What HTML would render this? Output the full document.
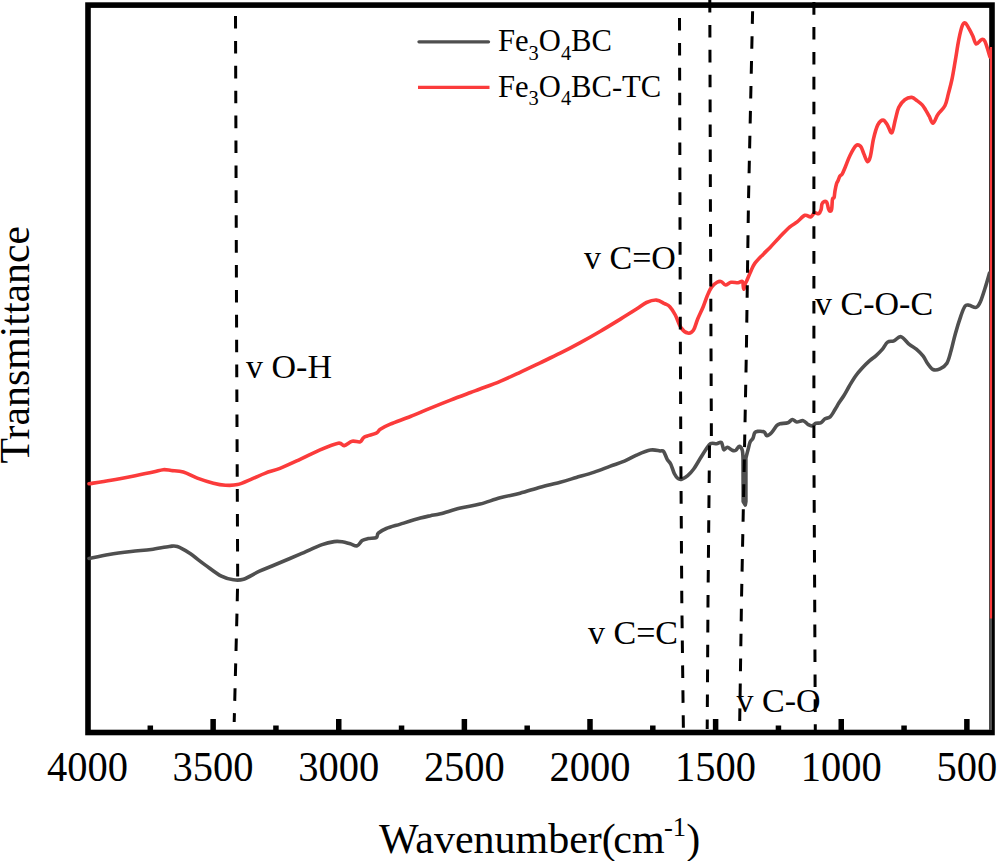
<!DOCTYPE html>
<html><head><meta charset="utf-8"><style>
html,body{margin:0;padding:0;background:#fff;}
body{width:997px;height:861px;overflow:hidden;}
svg{display:block;}
text{font-family:"Liberation Serif",serif;fill:#000;}
</style></head><body>
<svg width="997" height="861" viewBox="0 0 997 861">
<rect x="0" y="0" width="997" height="861" fill="#fff"/>
<rect x="88" y="5.1" width="904" height="727.4" fill="none" stroke="#000" stroke-width="5.6"/>
<rect x="147.56" y="725.50" width="5.5" height="5.50" fill="#000"/><rect x="210.38" y="719.00" width="5.5" height="12.00" fill="#000"/><rect x="273.19" y="725.50" width="5.5" height="5.50" fill="#000"/><rect x="336.00" y="719.00" width="5.5" height="12.00" fill="#000"/><rect x="398.81" y="725.50" width="5.5" height="5.50" fill="#000"/><rect x="461.62" y="719.00" width="5.5" height="12.00" fill="#000"/><rect x="524.44" y="725.50" width="5.5" height="5.50" fill="#000"/><rect x="587.25" y="719.00" width="5.5" height="12.00" fill="#000"/><rect x="650.06" y="725.50" width="5.5" height="5.50" fill="#000"/><rect x="712.87" y="719.00" width="5.5" height="12.00" fill="#000"/><rect x="775.69" y="725.50" width="5.5" height="5.50" fill="#000"/><rect x="838.50" y="719.00" width="5.5" height="12.00" fill="#000"/><rect x="901.31" y="725.50" width="5.5" height="5.50" fill="#000"/><rect x="964.12" y="719.00" width="5.5" height="12.00" fill="#000"/>
<g font-size="40.5" transform="translate(0,780.6) scale(1,1.06) translate(0,-780)"><text x="87.50" y="780" text-anchor="middle">4000</text><text x="213.12" y="780" text-anchor="middle">3500</text><text x="338.75" y="780" text-anchor="middle">3000</text><text x="464.37" y="780" text-anchor="middle">2500</text><text x="590.00" y="780" text-anchor="middle">2000</text><text x="715.62" y="780" text-anchor="middle">1500</text><text x="841.25" y="780" text-anchor="middle">1000</text><text x="966.87" y="780" text-anchor="middle">500</text></g>
<path d="M89.00,558.50 C92.33,557.83 101.98,555.67 109.00,554.50 C116.02,553.33 124.07,552.33 131.10,551.50 C138.13,550.67 144.83,550.33 151.20,549.50 C157.57,548.67 164.95,547.00 169.30,546.50 C173.65,546.00 173.97,545.40 177.30,546.50 C180.63,547.60 184.62,550.00 189.30,553.10 C193.98,556.20 200.05,561.25 205.40,565.10 C210.75,568.95 216.73,573.75 221.40,576.20 C226.07,578.65 229.72,579.30 233.40,579.80 C237.08,580.30 239.15,580.63 243.50,579.20 C247.85,577.77 254.15,573.65 259.50,571.20 C264.85,568.75 268.83,567.33 275.60,564.50 C282.37,561.67 292.35,557.52 300.10,554.20 C307.85,550.88 316.42,546.70 322.10,544.60 C327.78,542.50 330.85,542.07 334.20,541.60 C337.55,541.13 339.53,541.43 342.20,541.80 C344.87,542.17 347.70,543.13 350.20,543.80 C352.70,544.47 355.20,546.33 357.20,545.80 C359.20,545.27 360.35,541.80 362.20,540.60 C364.05,539.40 365.95,539.10 368.30,538.60 C370.65,538.10 374.63,538.50 376.30,537.60 C377.97,536.70 376.63,534.72 378.30,533.20 C379.97,531.68 382.62,530.02 386.30,528.50 C389.98,526.98 394.72,525.83 400.40,524.10 C406.08,522.37 415.38,519.50 420.40,518.10 C425.42,516.70 427.15,516.43 430.50,515.70 C433.85,514.97 435.50,514.97 440.50,513.70 C445.50,512.43 453.92,509.70 460.50,508.10 C467.08,506.50 473.40,505.82 480.00,504.10 C486.60,502.38 493.42,499.62 500.10,497.80 C506.78,495.98 513.42,494.97 520.10,493.20 C526.78,491.43 533.52,489.03 540.20,487.20 C546.88,485.37 554.18,483.82 560.20,482.20 C566.22,480.58 570.62,479.18 576.30,477.50 C581.98,475.82 588.62,474.00 594.30,472.10 C599.98,470.20 605.38,467.93 610.40,466.10 C615.42,464.27 620.05,462.93 624.40,461.10 C628.75,459.27 632.15,456.93 636.50,455.10 C640.85,453.27 646.58,450.80 650.50,450.10 C654.42,449.40 657.82,450.67 660.00,450.90 C662.18,451.13 662.40,450.10 663.60,451.50 C664.80,452.90 666.00,457.18 667.20,459.30 C668.40,461.42 669.60,461.78 670.80,464.20 C672.00,466.62 673.18,471.40 674.40,473.80 C675.62,476.20 676.88,477.70 678.10,478.60 C679.32,479.50 680.10,479.70 681.70,479.20 C683.30,478.70 685.70,477.30 687.70,475.60 C689.70,473.90 691.70,471.72 693.70,469.00 C695.70,466.28 697.70,462.52 699.70,459.30 C701.70,456.08 703.88,452.30 705.70,449.70 C707.52,447.10 708.78,444.70 710.60,443.70 C712.42,442.70 714.80,443.90 716.60,443.70 C718.40,443.50 720.20,441.50 721.40,442.50 C722.60,443.50 722.80,448.90 723.80,449.70 C724.80,450.50 726.00,447.20 727.40,447.30 C728.80,447.40 730.80,449.80 732.20,450.30 C733.60,450.80 734.63,450.95 735.80,450.30 C736.97,449.65 738.13,446.45 739.20,446.40 C740.27,446.35 741.57,448.07 742.20,450.00 C742.83,451.93 743.00,458.00 743.00,458.00 C743.00,458.00 743.20,501.50 743.20,501.50 C743.20,501.50 745.30,505.00 745.30,505.00 C745.30,505.00 745.90,501.50 745.90,501.50 C745.90,501.50 745.90,458.00 745.90,458.00 C745.90,458.00 747.50,451.65 748.20,449.00 C748.90,446.35 749.32,443.87 750.10,442.10 C750.88,440.33 752.13,439.95 752.90,438.40 C753.67,436.85 753.93,433.97 754.70,432.80 C755.47,431.63 755.95,431.55 757.50,431.40 C759.05,431.25 762.45,431.20 764.00,431.90 C765.55,432.60 765.55,435.45 766.80,435.60 C768.05,435.75 769.83,434.47 771.50,432.80 C773.17,431.13 775.38,427.10 776.80,425.60 C778.22,424.10 778.15,424.28 780.00,423.80 C781.85,423.32 785.83,423.42 787.90,422.70 C789.97,421.98 790.92,419.62 792.40,419.50 C793.88,419.38 795.00,421.80 796.80,422.00 C798.60,422.20 801.28,420.27 803.20,420.70 C805.12,421.13 806.80,423.75 808.30,424.60 C809.80,425.45 810.92,426.02 812.20,425.80 C813.48,425.58 814.52,423.82 816.00,423.30 C817.48,422.78 819.60,423.45 821.10,422.70 C822.60,421.95 823.50,419.77 825.00,418.80 C826.50,417.83 828.40,418.50 830.10,416.90 C831.80,415.30 833.72,411.55 835.20,409.20 C836.68,406.85 837.52,405.13 839.00,402.80 C840.48,400.47 842.40,397.97 844.10,395.20 C845.80,392.43 847.28,389.40 849.20,386.20 C851.12,383.00 853.47,378.98 855.60,376.00 C857.73,373.02 859.65,370.85 862.00,368.30 C864.35,365.75 867.35,362.82 869.70,360.70 C872.05,358.58 873.97,357.52 876.10,355.60 C878.23,353.68 880.58,351.45 882.50,349.20 C884.42,346.95 885.70,343.48 887.60,342.10 C889.50,340.72 891.68,341.80 893.90,340.90 C896.12,340.00 898.33,336.12 900.90,336.70 C903.47,337.28 906.73,342.32 909.30,344.40 C911.87,346.48 913.98,347.23 916.30,349.20 C918.62,351.17 921.35,353.87 923.20,356.20 C925.05,358.53 925.77,360.98 927.40,363.20 C929.03,365.42 930.90,368.57 933.00,369.50 C935.10,370.43 937.68,369.85 940.00,368.80 C942.32,367.75 945.05,366.23 946.90,363.20 C948.75,360.17 949.70,355.48 951.10,350.60 C952.50,345.72 953.67,339.70 955.30,333.90 C956.93,328.10 959.27,320.45 960.90,315.80 C962.53,311.15 963.72,307.75 965.10,306.00 C966.48,304.25 967.35,305.07 969.20,305.30 C971.05,305.53 974.33,307.98 976.20,307.40 C978.07,306.82 978.77,305.52 980.40,301.80 C982.03,298.08 984.48,289.90 986.00,285.10 C987.52,280.30 988.92,275.02 989.50,273.00" fill="none" stroke="#4f4f4f" stroke-width="3.6" stroke-linejoin="round" stroke-linecap="round"/>
<line x1="990.6" y1="273" x2="990.6" y2="730" stroke="#4f4f4f" stroke-width="2.8"/>
<path d="M89.00,483.80 C92.68,483.20 103.40,481.55 111.10,480.20 C118.80,478.85 128.18,477.05 135.20,475.70 C142.22,474.35 148.53,473.10 153.20,472.10 C157.87,471.10 160.18,469.97 163.20,469.70 C166.22,469.43 167.95,470.10 171.30,470.50 C174.65,470.90 178.97,470.83 183.30,472.10 C187.63,473.37 192.28,476.25 197.30,478.10 C202.32,479.95 208.72,482.02 213.40,483.20 C218.08,484.38 221.38,484.97 225.40,485.20 C229.42,485.43 233.15,485.62 237.50,484.60 C241.85,483.58 246.83,481.02 251.50,479.10 C256.17,477.18 260.75,474.90 265.50,473.10 C270.25,471.30 274.23,470.60 280.00,468.30 C285.77,466.00 293.42,462.38 300.10,459.30 C306.78,456.22 313.75,452.48 320.10,449.80 C326.45,447.12 334.18,443.90 338.20,443.20 C342.22,442.50 341.87,445.93 344.20,445.60 C346.53,445.27 349.53,441.83 352.20,441.20 C354.87,440.57 358.18,442.47 360.20,441.80 C362.22,441.13 361.62,438.63 364.30,437.20 C366.98,435.77 373.63,434.53 376.30,433.20 C378.97,431.87 377.97,430.70 380.30,429.20 C382.63,427.70 385.28,426.32 390.30,424.20 C395.32,422.08 403.70,419.18 410.40,416.50 C417.10,413.82 423.82,410.83 430.50,408.10 C437.18,405.37 443.82,402.70 450.50,400.10 C457.18,397.50 465.68,394.35 470.60,392.50 C475.52,390.65 475.08,390.87 480.00,389.00 C484.92,387.13 493.42,384.08 500.10,381.30 C506.78,378.52 513.42,375.38 520.10,372.30 C526.78,369.22 533.52,365.98 540.20,362.80 C546.88,359.62 553.52,356.57 560.20,353.20 C566.88,349.83 573.60,346.27 580.30,342.60 C587.00,338.93 593.72,335.12 600.40,331.20 C607.08,327.28 614.38,322.78 620.40,319.10 C626.42,315.42 632.15,311.87 636.50,309.10 C640.85,306.33 643.17,304.00 646.50,302.50 C649.83,301.00 653.48,299.90 656.50,300.10 C659.52,300.30 662.38,302.60 664.60,303.70 C666.82,304.80 668.02,304.82 669.80,306.70 C671.58,308.58 673.45,311.52 675.30,315.00 C677.15,318.48 678.80,324.58 680.90,327.60 C683.00,330.62 685.82,332.65 687.90,333.10 C689.98,333.55 691.78,332.62 693.40,330.30 C695.02,327.98 695.97,323.13 697.60,319.20 C699.23,315.27 701.57,310.65 703.20,306.70 C704.83,302.75 706.00,298.77 707.40,295.50 C708.80,292.23 709.98,289.30 711.60,287.10 C713.22,284.90 715.48,283.22 717.10,282.30 C718.72,281.38 719.90,281.15 721.30,281.60 C722.70,282.05 723.87,284.88 725.50,285.00 C727.13,285.12 729.02,282.68 731.10,282.30 C733.18,281.92 736.10,282.82 738.00,282.70 C739.90,282.58 741.57,280.52 742.50,281.60 C743.43,282.68 743.10,288.97 743.60,289.20 C744.10,289.43 745.03,284.27 745.50,283.00 C745.97,281.73 745.55,283.47 746.40,281.60 C747.25,279.73 749.20,274.83 750.60,271.80 C752.00,268.77 752.72,266.30 754.80,263.40 C756.88,260.50 760.55,257.07 763.10,254.40 C765.65,251.73 767.43,250.18 770.10,247.40 C772.77,244.62 775.85,241.07 779.10,237.70 C782.35,234.33 786.58,229.83 789.60,227.20 C792.62,224.57 794.65,223.88 797.20,221.90 C799.75,219.92 802.67,216.13 804.90,215.30 C807.13,214.47 808.98,217.32 810.60,216.90 C812.22,216.48 813.25,213.33 814.60,212.80 C815.95,212.27 817.62,214.23 818.70,213.70 C819.78,213.17 820.55,211.23 821.10,209.60 C821.65,207.97 821.45,205.25 822.00,203.90 C822.55,202.55 823.60,201.77 824.40,201.50 C825.20,201.23 826.12,201.08 826.80,202.30 C827.48,203.52 827.95,207.32 828.50,208.80 C829.05,210.28 829.57,211.20 830.10,211.20 C830.63,211.20 831.30,210.83 831.70,208.80 C832.10,206.77 832.10,200.90 832.50,199.00 C832.90,197.10 833.68,198.75 834.10,197.40 C834.52,196.05 834.58,193.20 835.00,190.90 C835.42,188.60 836.07,185.37 836.60,183.60 C837.13,181.83 837.67,181.52 838.20,180.30 C838.73,179.08 839.12,177.38 839.80,176.30 C840.48,175.22 841.35,175.43 842.30,173.80 C843.25,172.17 844.22,169.55 845.50,166.50 C846.78,163.45 848.25,158.97 850.00,155.50 C851.75,152.03 854.23,147.22 856.00,145.70 C857.77,144.18 859.33,145.15 860.60,146.40 C861.87,147.65 862.47,150.68 863.60,153.20 C864.73,155.72 866.27,161.00 867.40,161.50 C868.53,162.00 869.38,159.97 870.40,156.20 C871.42,152.43 872.27,144.12 873.50,138.90 C874.73,133.68 876.20,128.03 877.80,124.90 C879.40,121.77 881.50,120.10 883.10,120.10 C884.70,120.10 885.95,122.78 887.40,124.90 C888.85,127.02 890.48,133.67 891.80,132.80 C893.12,131.93 894.15,123.92 895.30,119.70 C896.45,115.48 897.12,110.83 898.70,107.50 C900.28,104.17 902.62,101.38 904.80,99.70 C906.98,98.02 909.77,97.25 911.80,97.40 C913.83,97.55 915.27,99.35 917.00,100.60 C918.73,101.85 920.75,103.32 922.20,104.90 C923.65,106.48 924.53,108.22 925.70,110.10 C926.87,111.98 927.98,114.02 929.20,116.20 C930.42,118.38 931.55,123.48 933.00,123.20 C934.45,122.92 935.92,117.40 937.90,114.50 C939.88,111.60 943.15,109.28 944.90,105.80 C946.65,102.32 947.23,97.95 948.40,93.60 C949.57,89.25 950.75,85.22 951.90,79.70 C953.05,74.18 954.15,67.18 955.30,60.50 C956.45,53.82 957.63,45.40 958.80,39.60 C959.97,33.80 961.20,28.45 962.30,25.70 C963.40,22.95 964.23,22.52 965.40,23.10 C966.57,23.68 968.07,27.03 969.30,29.20 C970.53,31.37 971.65,33.63 972.80,36.10 C973.95,38.57 974.75,43.42 976.20,44.00 C977.65,44.58 980.05,40.05 981.50,39.60 C982.95,39.15 983.48,38.40 984.90,41.30 C986.32,44.20 989.15,54.38 990.00,57.00" fill="none" stroke="#fb3b3b" stroke-width="3.6" stroke-linejoin="round" stroke-linecap="round"/>
<line x1="991" y1="47" x2="991" y2="618.5" stroke="#fb3b3b" stroke-width="2.2"/>
<path d="M235.5,16 L236.7,360 L237.7,580 L237.0,612 L234.2,722" fill="none" stroke="#000" stroke-width="3" stroke-dasharray="12.6 12.3"/><path d="M679.5,18 L680.2,300 L680.8,450 L681.8,600 L683.4,730" fill="none" stroke="#000" stroke-width="3" stroke-dasharray="12.6 12.3"/><path d="M709.8,0 L710.4,200 L711.4,440" fill="none" stroke="#000" stroke-width="3" stroke-dasharray="12.6 12.3"/><path d="M709.5,445.5 L708.0,600 L707.2,729" fill="none" stroke="#000" stroke-width="3" stroke-dasharray="12.6 12.3"/><path d="M752.6,11.3 L748.5,200 L746.4,350 L744.5,450 L741.5,600 L739.7,722" fill="none" stroke="#000" stroke-width="3" stroke-dasharray="12.6 12.3"/><path d="M813.9,2.1 L813.9,450 L814.7,600 L815.3,730" fill="none" stroke="#000" stroke-width="3" stroke-dasharray="12.6 12.3"/>
<line x1="419" y1="41.8" x2="488.5" y2="41.8" stroke="#4f4f4f" stroke-width="3.3" stroke-linecap="round"/>
<line x1="418" y1="87.3" x2="489.5" y2="87.3" stroke="#fb3b3b" stroke-width="3.3"/>
<text x="498" y="51.3" font-size="30.6">Fe<tspan font-size="20.4" dy="8.7">3</tspan><tspan dy="-8.7">O</tspan><tspan font-size="20.4" dy="8.7">4</tspan><tspan dy="-8.7">BC</tspan></text>
<text x="498" y="96.7" font-size="30.6">Fe<tspan font-size="20.4" dy="8.7">3</tspan><tspan dy="-8.7">O</tspan><tspan font-size="20.4" dy="8.7">4</tspan><tspan dy="-8.7">BC-TC</tspan></text>
<g font-size="34">
<text x="246" y="378">v O-H</text>
<text x="584" y="268.5">v C=O</text>
<text x="815" y="315">v C-O-C</text>
<text x="588" y="644">v C=C</text>
<text x="736.5" y="711.6">v C-O</text>
</g>
<g font-size="42"><text x="379" y="853">Wavenumber(</text><text x="613.3" y="853">cm</text><text x="664" y="835.5" font-size="26.5">-1</text><text x="686.3" y="853">)</text></g>
<text transform="translate(29,463.5) rotate(-90)" x="0" y="0" font-size="41.8">Transmittance</text>
</svg>
</body></html>
